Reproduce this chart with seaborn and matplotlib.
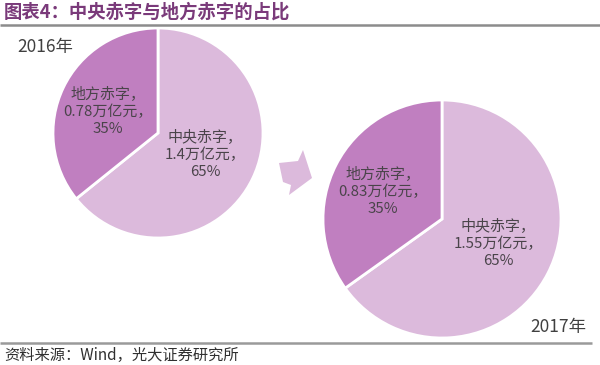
import matplotlib
matplotlib.use("Agg")
import matplotlib.pyplot as plt
from matplotlib.patches import Polygon
import seaborn as sns

sns.set_theme(style="white")
plt.rcParams['font.family'] = ['Noto Sans CJK SC', 'DejaVu Sans']

# ---- data ----
categories = ["中央赤字", "地方赤字"]
years = ["2016年", "2017年"]
values_2016 = [1.4, 0.78]      # 万亿元
values_2017 = [1.55, 0.83]
shares_2016 = [65, 35]         # %
shares_2017 = [65, 35]
title = "图表4：中央赤字与地方赤字的占比"
source = "资料来源：Wind，光大证券研究所"

colors = ["#dcbadc", "#c07fc0"]
text_color = "#4a444a"

W, H = 600, 365
fig = plt.figure(figsize=(W / 100, H / 100), dpi=100)
fig.patch.set_facecolor("white")
ax = fig.add_axes([0, 0, 1, 1])


def Y(y):
    return H - y


def draw_pie(vals, shares, cx, cy, r, lab_pos):
    wedges, _ = ax.pie(vals, colors=colors, startangle=90, counterclock=False,
                       center=(cx, Y(cy)), radius=r,
                       wedgeprops=dict(edgecolor="white", linewidth=2))
    for cat, v, s, (lx, ly) in zip(categories, vals, shares, lab_pos):
        ax.text(lx, Y(ly), f"{cat}，\n{v:g}万亿元，\n{s}%", ha="center", va="center",
                fontsize=10.8, color=text_color, linespacing=1.25)


draw_pie(values_2016, shares_2016, 158, 133, 105, [(205, 154), (108, 111)])
draw_pie(values_2017, shares_2017, 442, 219, 119, [(498, 243), (383, 191)])

# arrow between pies (decoration)
arrow = Polygon([(279, Y(163)), (298, Y(161)), (303, Y(150)), (312, Y(178)),
                 (289, Y(195)), (291, Y(185)), (283, Y(182))],
                closed=True, facecolor="#dcbadc", edgecolor="none")
ax.add_patch(arrow)

ax.text(17, Y(47), years[0], ha="left", va="center", fontsize=12.5, color="#404040")
ax.text(586, Y(327), years[1], ha="right", va="center", fontsize=12.5, color="#404040")

# title and rules
ax.text(4, Y(12), title, ha="left", va="center", fontsize=13.2, fontweight="bold",
        color="#7a3a7a")
ax.plot([0, 600], [Y(24.5), Y(24.5)], color="#8c8c8c", lw=1.8, solid_capstyle="butt")
ax.plot([0, 592], [Y(342.5), Y(342.5)], color="#9a9a9a", lw=1.8, solid_capstyle="butt")
ax.text(4, Y(355), source, ha="left", va="center", fontsize=11, color="#303030")

ax.set_xlim(0, W)
ax.set_ylim(0, H)
ax.set_aspect("equal")
ax.axis("off")

fig.savefig("out.png", dpi=100, facecolor="white")
